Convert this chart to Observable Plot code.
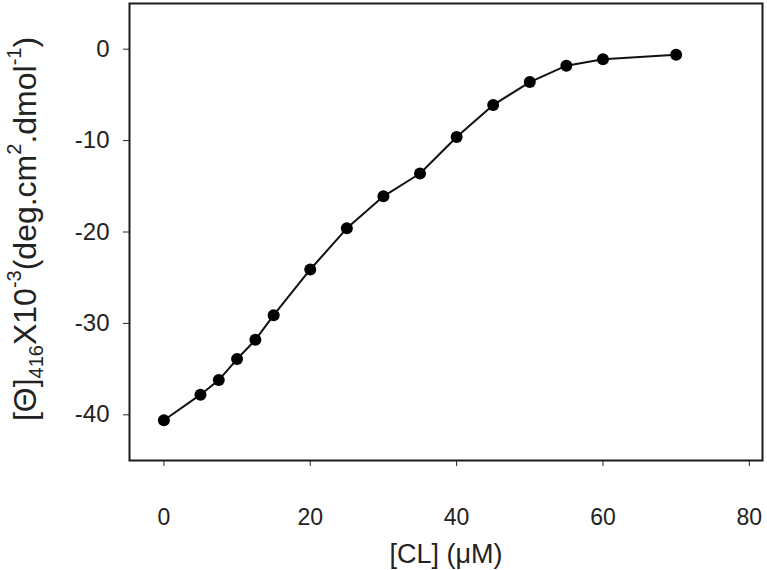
<!DOCTYPE html>
<html><head>
<meta charset="utf-8">
<script src="https://cdn.jsdelivr.net/npm/d3@7"></script>
<script src="https://cdn.jsdelivr.net/npm/@observablehq/plot@0.6"></script>
<style>body{margin:0;background:#fff}</style>
</head><body><div id="chart"></div>
<script>
const concentration = [0, 5, 7.5, 10, 12.5, 15, 20, 25, 30, 35, 40, 45, 50, 55, 60, 70];
const ellipticity = [-40.6, -37.8, -36.2, -33.9, -31.8, -29.1, -24.1, -19.6, -16.1, -13.6, -9.6, -6.1, -3.6, -1.8, -1.1, -0.6];
const xTicks = [0, 20, 40, 60, 80];
const yTicks = [0, -10, -20, -30, -40];
const xLabel = "[CL] (\u03bcM)";

const data = concentration.map((c, i) => ({c, v: ellipticity[i]}));
const font = "Arial, 'Liberation Sans', sans-serif";

const plot = Plot.plot({
  width: 767, height: 570,
  marginLeft: 129, marginRight: 5, marginTop: 3, marginBottom: 110,
  style: {fontFamily: font, fontSize: "23px", color: "#222", background: "white"},
  x: {domain: [-4.7, 81.8]},
  y: {domain: [-45, 5]},
  marks: [
    Plot.frame({stroke: "#1a1a1a", strokeWidth: 2}),
    Plot.axisX({ticks: xTicks, tickFormat: d => String(d), tickSize: 6, tickPadding: 42, fontSize: 23, label: null}),
    Plot.axisX({ticks: [], label: xLabel, labelAnchor: "center", labelArrow: "none", labelOffset: 102, fontSize: 27}),
    Plot.axisY({ticks: yTicks, tickFormat: d => String(d), tickSize: 6, tickPadding: 14, label: null, fontSize: 24}),
    Plot.line(data, {x: "c", y: "v", stroke: "#111", strokeWidth: 2}),
    Plot.dot(data, {x: "c", y: "v", r: 6, fill: "#000", stroke: "none"})
  ]
});
document.getElementById("chart").append(plot);

// rotated y-axis title with sub/superscripts
const svg = d3.select(plot);
const t = svg.append("text")
  .attr("transform", "translate(25,229) rotate(-90)")
  .attr("text-anchor", "middle")
  .attr("dominant-baseline", "central")
  .style("font-family", font)
  .style("font-size", "32px")
  .attr("fill", "#222");
const parts = [
  ["[\u0398]", 0], ["416", -1], ["X10", 0], ["-3", 1], ["(deg.cm", 0], ["2", 1], [".dmol", 0], ["-1", 1], [")", 0]
];
parts.forEach(([s, k]) => {
  const ts = t.append("tspan").text(s);
  if (k !== 0) ts.style("font-size", "20px").attr("baseline-shift", k > 0 ? "super" : "sub");
});
</script>
</body></html>
